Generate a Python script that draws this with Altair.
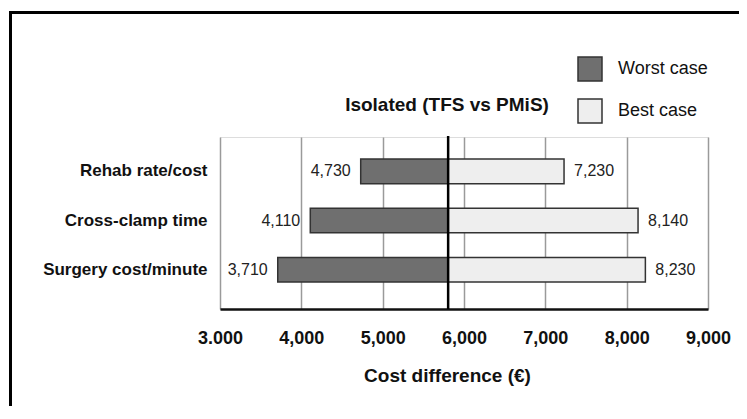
import json
import altair as alt
import pandas as pd

categories = ["Rehab rate/cost", "Cross-clamp time", "Surgery cost/minute"]
worst_values = [4730, 4110, 3710]
best_values = [7230, 8140, 8230]
base_value = 5805
cases = ["Worst case", "Best case"]
case_colors = ["#6f6f6f", "#eeeeee"]
tick_values = [3000, 4000, 5000, 6000, 7000, 8000, 9000]
tick_labels = ["3.000", "4,000", "5,000", "6,000", "7,000", "8,000", "9,000"]
chart_title = "Isolated (TFS vs PMiS)"
x_title = "Cost difference (\u20ac)"

rows = []
for c, w, b in zip(categories, worst_values, best_values):
    rows.append({"category": c, "case": cases[0], "value": w, "base": base_value})
    rows.append({"category": c, "case": cases[1], "value": b, "base": base_value})
df = pd.DataFrame(rows)

FONT = "Liberation Sans"
W, H = 488, 172

label_expr = (
    json.dumps(tick_labels)
    + "[indexof("
    + json.dumps(tick_values)
    + ", datum.value)]"
)

x_enc = alt.X(
    "value:Q",
    scale=alt.Scale(domain=[tick_values[0], tick_values[-1]], nice=False, zero=False),
    axis=alt.Axis(
        values=tick_values,
        labelExpr=label_expr,
        labelFlush=False,
        labelOverlap=False,
        title=x_title,
        titleX=227,
        titleY=66,
        titleBaseline="middle",
        titleAlign="center",
        titleFont=FONT,
        titleFontSize=19,
        titleFontWeight="bold",
        titleColor="#111",
        labelFont=FONT,
        labelFontSize=18,
        labelFontWeight="bold",
        labelColor="#111",
        labelPadding=20,
        ticks=False,
        tickSize=0,
        grid=True,
        gridColor="#9a9a9a",
        gridWidth=1.5,
        domainColor="#111",
        domainWidth=2.5,
    ),
)

y_enc = alt.Y(
    "category:N",
    sort=categories,
    scale=alt.Scale(paddingInner=0.5, paddingOuter=0.5, align=0.45),
    axis=alt.Axis(
        title=None,
        domain=False,
        ticks=False,
        labelFont=FONT,
        labelFontSize=17,
        labelFontWeight="bold",
        labelColor="#111",
        labelPadding=13,
        grid=False,
    ),
)

bars = alt.Chart(df).mark_bar(stroke="#333333", strokeWidth=1.5).encode(
    x=x_enc,
    x2="base:Q",
    y=y_enc,
    color=alt.Color(
        "case:N",
        scale=alt.Scale(domain=cases, range=case_colors),
        sort=cases,
        legend=alt.Legend(
            title=None,
            orient="none",
            legendX=357,
            legendY=-81,
            padding=0,
            symbolType="square",
            symbolSize=576,
            symbolStrokeColor="#333333",
            symbolStrokeWidth=1.5,
            symbolOpacity=1,
            labelFont=FONT,
            labelFontSize=18,
            labelColor="#111",
            labelOffset=15,
            rowPadding=12,
        ),
    ),
)

worst_text = (
    alt.Chart(df)
    .transform_filter(alt.datum.case == cases[0])
    .mark_text(align="right", baseline="middle", dx=-10, font=FONT, fontSize=16, color="#222")
    .encode(x="value:Q", y=alt.Y("category:N", sort=categories), text=alt.Text("value:Q", format=","))
)

best_text = (
    alt.Chart(df)
    .transform_filter(alt.datum.case == cases[1])
    .mark_text(align="left", baseline="middle", dx=10, font=FONT, fontSize=16, color="#222")
    .encode(x="value:Q", y=alt.Y("category:N", sort=categories), text=alt.Text("value:Q", format=","))
)

base_rule = (
    alt.Chart(pd.DataFrame({"base": [base_value]}))
    .mark_rule(color="#000", strokeWidth=2.5)
    .encode(x="base:Q", y=alt.value(-1), y2=alt.value(H))
)

title_text = (
    alt.Chart(pd.DataFrame({"t": [chart_title]}))
    .mark_text(font=FONT, fontSize=19, fontWeight="bold", color="#111", baseline="middle", align="center")
    .encode(text="t:N", x=alt.value(227), y=alt.value(-32))
)

border_top = (
    alt.Chart(pd.DataFrame({"a": [0]}))
    .mark_rule(color="#000", strokeWidth=3)
    .encode(x=alt.value(-211), x2=alt.value(560), y=alt.value(-124.5))
)
border_left = (
    alt.Chart(pd.DataFrame({"a": [0]}))
    .mark_rule(color="#000", strokeWidth=3)
    .encode(x=alt.value(-209.5), y=alt.value(-126), y2=alt.value(300))
)

chart = (
    alt.layer(bars, worst_text, best_text, base_rule, title_text, border_top, border_left)
    .properties(
        width=W,
        height=H,
        autosize=alt.AutoSizeParams(type="none"),
        padding={"left": 212, "top": 129, "right": 31, "bottom": 97},
    )
    .configure_view(stroke=None)
    .configure(font=FONT)
)

chart.save("out.html", embed_options={"renderer": "svg", "actions": False})
